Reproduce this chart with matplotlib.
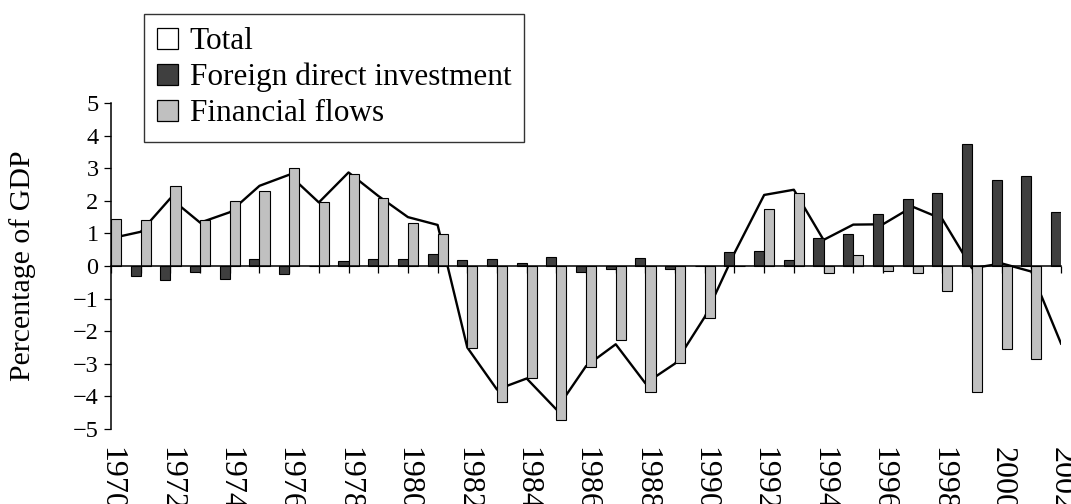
import numpy as np
import matplotlib
matplotlib.use('Agg')
import matplotlib.pyplot as plt
from matplotlib.patches import Patch

# Values (percentage of GDP)
years = list(range(1970, 2003))
fdi = [0.00, -0.31, -0.43, -0.18, -0.41, 0.22, -0.23, 0.00, 0.14, 0.23,
       0.23, 0.37, 0.18, 0.22, 0.10, 0.27, -0.17, -0.08, 0.26, -0.09,
       0.00, 0.44, 0.47, 0.17, 0.85, 0.98, 1.59, 2.05, 2.25, 3.75,
       2.64, 2.77, 1.67]
financial = [1.45, 1.40, 2.46, 1.40, 2.00, 2.30, 3.01, 1.97, 2.81, 2.08,
             1.33, 0.98, -2.50, -4.16, -3.43, -4.71, -3.09, -2.28, -3.86, -2.96,
             -1.58, 0.00, 1.74, 2.25, -0.20, 0.35, -0.15, -0.20, -0.76, -3.86,
             -2.55, -2.85, 0.00]
total = [0.85, 1.05, 2.08, 1.33, 1.65, 2.46, 2.80, 1.95, 2.87, 2.15,
         1.50, 1.26, -2.50, -3.79, -3.45, -4.40, -3.07, -2.40, -3.60, -2.99,
         -1.56, 0.40, 2.18, 2.34, 0.80, 1.27, 1.28, 1.82, 1.44, -0.07,
         0.08, -0.17, -2.38]
label_years = years[::2]
legend_labels = ['Total', 'Foreign direct investment', 'Financial flows']

plt.rcParams['font.family'] = ['Liberation Serif', 'DejaVu Serif']

dark = '#3f3f3f'
light = '#c0c0c0'
bar_w = 0.34

fig = plt.figure(figsize=(10.71, 5.04), dpi=100)
ax = fig.add_axes([0.1037, 0.1488, 0.8870, 0.6468])

# line sits behind the bars
ax.plot(years, total, color='black', linewidth=1.7, zorder=2)
ax.bar(years, fdi, width=-bar_w, align='edge', color=dark,
       edgecolor='black', linewidth=0.8, zorder=3)
ax.bar(years, financial, width=bar_w, align='edge', color=light,
       edgecolor='black', linewidth=0.8, zorder=3)

ax.set_xlim(1970, 2002)
ax.set_ylim(-5, 5)
ax.set_yticks(range(-5, 6))

for side in ['top', 'right']:
    ax.spines[side].set_visible(False)
ax.spines['bottom'].set_position(('data', 0))
ax.spines['bottom'].set_zorder(4)
ax.spines['left'].set_linewidth(1.1)
ax.spines['bottom'].set_linewidth(1.1)

ax.set_xticks(years)
ax.tick_params(axis='x', direction='out', length=5, width=0.9, labelbottom=False)
ax.tick_params(axis='y', direction='out', length=5, width=0.9, labelsize=17.5, pad=4)

# year labels under the plot area, the axis itself stays at zero
sec = ax.secondary_xaxis('bottom')
sec.set_xticks(label_years)
sec.set_xticklabels([str(y) for y in label_years])
sec.tick_params(length=0, labelsize=23, pad=13, labelrotation=-90)
sec.spines['bottom'].set_visible(False)

ax.set_ylabel('Percentage of GDP', fontsize=21.5)
ax.yaxis.set_label_coords(-0.079, 0.5)

handles = [Patch(facecolor='white', edgecolor='black', linewidth=0.9),
           Patch(facecolor=dark, edgecolor='black', linewidth=0.9),
           Patch(facecolor=light, edgecolor='black', linewidth=0.9)]
leg = fig.legend(handles, legend_labels, loc='upper left',
                 bbox_to_anchor=(144 / 1071, 1 - 14 / 504),
                 bbox_transform=fig.transFigure, fontsize=22.5,
                 frameon=True, fancybox=False, shadow=False,
                 handlelength=0.66, handleheight=0.66, handletextpad=0.38,
                 borderpad=0.42, labelspacing=0.22, borderaxespad=0)
leg.get_frame().set_edgecolor('black')
leg.get_frame().set_linewidth(1.0)

fig.savefig('out.png', dpi=100)
